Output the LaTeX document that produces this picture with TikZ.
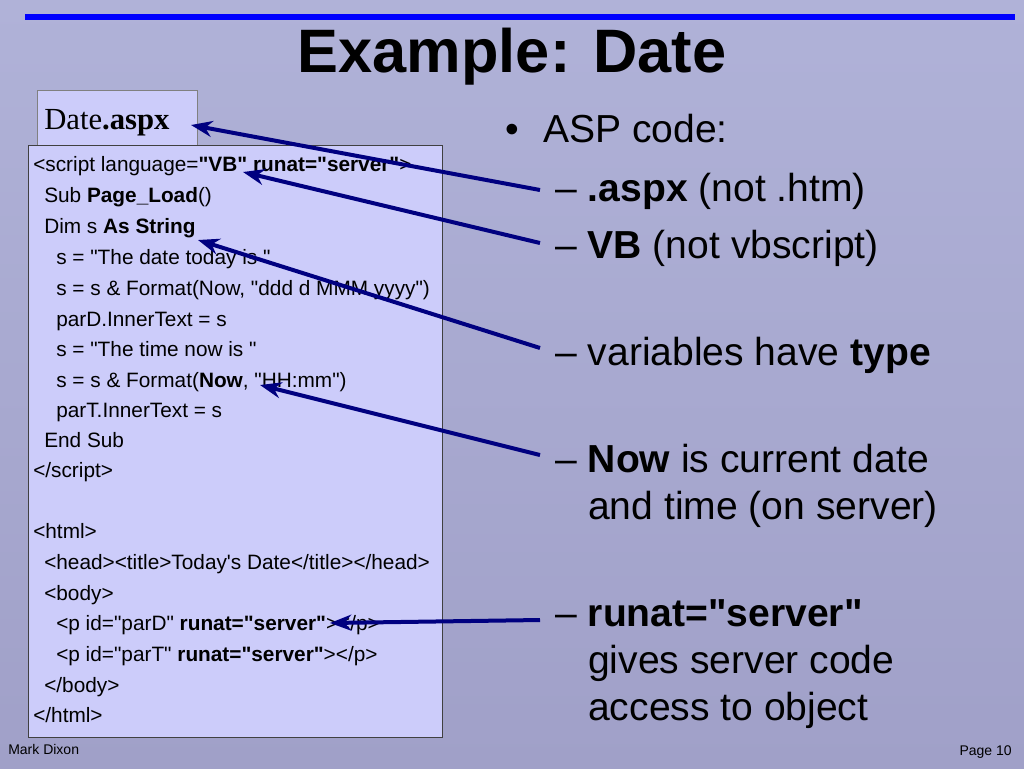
\documentclass[tikz,border=0pt]{standalone}
\usepackage{fontspec}
\setmainfont{Liberation Sans}[Ligatures=TeXOff]
\newfontfamily\serifdate{Liberation Serif}
\usetikzlibrary{arrows.meta}
\definecolor{slidetop}{RGB}{176,178,216}
\definecolor{slidebot}{RGB}{160,160,200}
\definecolor{codefill}{RGB}{204,204,250}
\definecolor{navyarrow}{RGB}{0,0,128}

\begin{document}
\begin{tikzpicture}[x=0.75pt,y=-0.75pt]
    \tikzstyle{code}=[anchor=base west,inner sep=0pt,font=\fontsize{15.6}{18}\selectfont]
    \tikzstyle{point}=[anchor=base west,inner sep=0pt,font=\fontsize{29.3}{34}\selectfont]
    \tikzstyle{pointer}=[navyarrow,line width=3pt,-{Stealth[length=16pt,width=12pt]}]

    % background and rule
    \shade[top color=slidetop,bottom color=slidebot] (0,0) rectangle (1024,768);
    \useasboundingbox (0,0) rectangle (1024,768);
    \draw[blue,line width=4.5pt] (25,17) -- (1015,17);
    \node[inner sep=0pt,font=\fontsize{46}{50}\selectfont\bfseries] (title) at (512,57) {Example: Date};

    % file tab and code box
    \draw[black!50,fill=codefill] (37,90) rectangle (197,145);
    \node[anchor=base west,inner sep=0pt,font=\serifdate\fontsize{23}{26}\selectfont] (tab) at (44,129) {Date\textbf{.aspx}};
    \draw[black!75,fill=codefill] (28,145) rectangle (442,737);

    \node[code] (c1) at (33,171) {<script language=\textbf{"VB" runat="server"}>};
    \node[code] (c2) at (44,202) {Sub \textbf{Page\_Load}()};
    \node[code] (c3) at (44,233) {Dim s \textbf{As String}};
    \node[code] (c4) at (56,264) {s = "The date today is "};
    \node[code] (c5) at (56,295) {s = s \& Format(Now, "ddd d MMM yyyy")};
    \node[code] (c6) at (56,326) {parD.InnerText = s};
    \node[code] (c7) at (56,356) {s = "The time now is "};
    \node[code] (c8) at (56,387) {s = s \& Format(\textbf{Now}, "HH:mm")};
    \node[code] (c9) at (56,417) {parT.InnerText = s};
    \node[code] (c10) at (44,447) {End Sub};
    \node[code] (c11) at (33,477) {</script>};
    \node[code] (c12) at (33,538) {<html>};
    \node[code] (c13) at (44,569) {<head><title>Today's Date</title></head>};
    \node[code] (c14) at (44,600) {<body>};
    \node[code] (c15) at (56,630) {<p id="parD" \textbf{runat="server"}></p>};
    \node[code] (c16) at (56,661) {<p id="parT" \textbf{runat="server"}></p>};
    \node[code] (c17) at (44,692) {</body>};
    \node[code] (c18) at (33,722) {</html>};

    % bullet points
    \node[point] (dot) at (505,142) {\textbullet};
    \node[point] (asp) at (543,142) {ASP code:};
    \node[point] (p1) at (555,201) {\textendash\ \textbf{.aspx} (not .htm)};
    \node[point] (p2) at (555,258) {\textendash\ \textbf{VB} (not vbscript)};
    \node[point] (p3) at (555,365) {\textendash\ variables have \textbf{type}};
    \node[point] (p4) at (555,472) {\textendash\ \textbf{Now} is current date};
    \node[point] (p4b) at (588,519) {and time (on server)};
    \node[point] (p5) at (555,626) {\textendash\ \textbf{runat="server"}};
    \node[point] (p5b) at (588,673) {gives server code};
    \node[point] (p5c) at (588,720) {access to object};

    % arrow targets
    \coordinate (t1) at (191,125);
    \coordinate (t2) at (243,172);
    \coordinate (t3) at (198,240);
    \coordinate (t4) at (260,385);
    \coordinate (t5) at (330,623);
    \draw[pointer] (540,190) -- (t1);
    \draw[pointer] (540,243) -- (t2);
    \draw[pointer] (540,348) -- (t3);
    \draw[pointer] (540,455) -- (t4);
    \draw[pointer] (540,620) -- (t5);

    % footer
    \node[anchor=west,inner sep=0pt,font=\fontsize{10.5}{12}\selectfont] (author) at (8,749) {Mark Dixon};
    \node[anchor=east,inner sep=0pt,font=\fontsize{10.5}{12}\selectfont] (page) at (1012,752) {Page 10};
\end{tikzpicture}
\end{document}
